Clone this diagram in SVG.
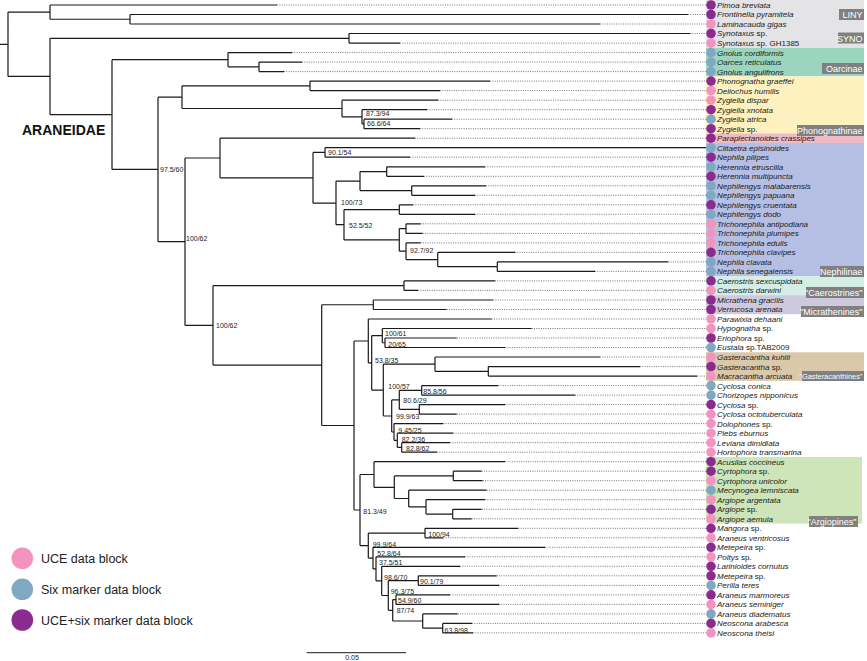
<svg xmlns="http://www.w3.org/2000/svg" width="867" height="661" viewBox="0 0 867 661">
<style>
.br{fill:none;stroke:#1a1a1a;stroke-width:1.2}
.dt{fill:none;stroke:#555;stroke-width:0.8;stroke-dasharray:1 1.3}
.u{fill:#f394c0}.m{fill:#7fa8c2}.b{fill:#8b2b8d}
.t{font-family:"Liberation Sans",Arial,sans-serif;font-size:8px;font-style:italic;fill:#1a1a1a}
.n{font-style:normal}
.s{font-family:"Liberation Sans",Arial,sans-serif;font-size:7px;fill:#222}
.lb{fill:#808080}
.lt{font-family:"Liberation Sans",Arial,sans-serif;font-size:9px;fill:#fff;text-anchor:end}
.lg{font-family:"Liberation Sans",Arial,sans-serif;font-size:12.5px;fill:#222}
</style>
<rect width="867" height="661" fill="#fff"/>
<g id="bands">
<rect x="706" y="0" width="158" height="47.85" fill="#e4e4e7"/>
<rect x="706" y="47.85" width="158" height="28.5" fill="#9bd5bf"/>
<rect x="706" y="76.35" width="158" height="57.1" fill="#fdf2bf"/>
<rect x="706" y="133.45" width="158" height="9.5" fill="#efbac4"/>
<rect x="706" y="142.95" width="158" height="133.2" fill="#b5bee3"/>
<rect x="706" y="276.15" width="158" height="19" fill="#d4ede5"/>
<rect x="706" y="295.15" width="158" height="19.1" fill="#cfc9de"/>
<rect x="706" y="352.25" width="158" height="28.6" fill="#d9c9aa"/>
<rect x="706" y="456.95" width="156" height="66.6" fill="#cde5b9"/>
</g>
<g id="connectors">
<path class="br" d="M0 44.3H8M8 12.1V76.4M8 12.1H50M8 76.4H50
M50 5V19.25M50 5H277M50 19.25H130
M130 14.5V24M130 14.5H688M130 24H600
M50 38.3V114.6M50 38.3H349M50 114.6H112
M349 33.5V43.1M349 33.5H690M349 43.1H400
M112 59.7V169.4M112 59.7H228M112 169.4H158
M228 52.6V66.85M228 52.6H292M228 66.85H259
M259 62.1V71.6M259 62.1H302M259 71.6H284
M158 97.2V241.7M158 97.2H182M158 241.7H185
M182 85.85V108.5M182 85.85H310M182 108.5H342
M310 81.1V90.6M310 81.1H490M310 90.6H440
M342 100.2V116.8M342 100.2H438M342 116.8H362
M362 109.7V123.95M362 109.7H427M362 123.95H364
M364 119.2V128.7M364 119.2H452M364 128.7H420
M185 158V325.4M185 158H220M185 325.4H213
M220 138.2V177.8M220 138.2H415M220 177.8H313
M313 152.45V203.2M313 152.45H325M313 203.2H336
M325 147.7V157.2M325 147.7H706M325 157.2H410
M336 181.05V224.7M336 181.05H360M336 224.7H344
M360 171.55V190.55M360 171.55H386.7M360 190.55H411.7
M386.7 166.8V176.3M386.7 166.8H485M386.7 176.3H424
M411.7 185.8V195.3M411.7 185.8H486M411.7 195.3H475
M344 209.55V239.9M344 209.55H399.3M344 239.9H399.3
M399.3 204.8V214.3M399.3 204.8H413M399.3 214.3H475
M399.3 228.6V251.2M399.3 228.6H406M399.3 251.2H406
M406 223.8V233.4M406 223.8H420.7M406 233.4H422.7
M406 242.9V259.55M406 242.9H420.7M406 259.55H437.7
M437.7 252.4V266.65M437.7 252.4H515M437.7 266.65H497.3
M497.3 261.9V271.4M497.3 261.9H668.3M497.3 271.4H595
M213 285.65V365.1M213 285.65H404M213 365.1H321.7
M404 280.9V290.4M404 280.9H495M404 290.4H418
M321.7 304.75V425.5M321.7 304.75H373.3M321.7 425.5H354
M373.3 300V309.5M373.3 300H493M373.3 309.5H446.7
M354 341V510M354 341H368.3M354 510H360
M368.3 319V362.9M368.3 319H491.7M368.3 362.9H371.7
M371.7 335.6V390.1M371.7 335.6H382.3M371.7 390.1H383.3
M382.3 328.5V342.75M382.3 328.5H531.7M382.3 342.75H385
M385 338V347.5M385 338H456.7M385 347.5H505
M383.3 364.2V416M383.3 364.2H435M383.3 416H391.7
M435 357V371.35M435 357H600M435 371.35H488.3
M488.3 366.6V376.1M488.3 366.6H640M488.3 376.1H697
M391.7 399.9V432M391.7 399.9H399.3M391.7 432H394
M399.3 390.35V409.35M399.3 390.35H421.7M399.3 409.35H419.3
M421.7 385.6V395.1M421.7 385.6H498.3M421.7 395.1H575
M419.3 404.6V414.1M419.3 404.6H505M419.3 414.1H456.7
M394 423.6V440.3M394 423.6H443.3M394 440.3H397.3
M397.3 433.2V447.45M397.3 433.2H453.3M397.3 447.45H401.7
M401.7 442.7V452.2M401.7 442.7H450M401.7 452.2H437
M360 474.5V545.6M360 474.5H374M360 545.6H368.3
M374 461.7V487.3M374 461.7H505M374 487.3H394.3
M394.3 475.95V498.5M394.3 475.95H453.3M394.3 498.5H408.7
M453.3 471.2V480.7M453.3 471.2H481.7M453.3 480.7H482.7
M408.7 490.2V506.9M408.7 490.2H486.7M408.7 506.9H426
M426 499.7V514.05M426 499.7H485M426 514.05H452.7
M452.7 509.3V518.8M452.7 509.3H481.7M452.7 518.8H471.7
M368.3 533.05V558.1M368.3 533.05H425M368.3 558.1H373
M425 528.3V537.8M425 528.3H518.3M425 537.8H443.3
M373 547.3V568.9M373 547.3H545M373 568.9H376
M376 556.8V580.9M376 556.8H465M376 580.9H381.7
M381.7 566.3V595.5M381.7 566.3H460M381.7 595.5H388.3
M388.3 580.6V610.3M388.3 580.6H418.3M388.3 610.3H392.7
M418.3 575.8V585.4M418.3 575.8H496.7M418.3 585.4H499
M392.7 599.65V621M392.7 599.65H396M392.7 621H422.7
M396 594.9V604.4M396 594.9H450M396 604.4H499
M422.7 613.9V628.15M422.7 613.9H457.7M422.7 628.15H442.7
M442.7 623.4V632.9M442.7 623.4H472M442.7 632.9H473"/>
<path class="dt" d="M277 5H706M688 14.5H706M600 24H706M690 33.5H706M400 43.1H706M292 52.6H706M302 62.1H706M284 71.6H706
M490 81.1H706M440 90.6H706M438 100.2H706M427 109.7H706M452 119.2H706M420 128.7H706M415 138.2H706
M410 157.2H706M485 166.8H706M424 176.3H706M486 185.8H706M475 195.3H706M413 204.8H706M475 214.3H706
M420.7 223.8H706M422.7 233.4H706M420.7 242.9H706M515 252.4H706M668.3 261.9H706M595 271.4H706
M495 280.9H706M418 290.4H706M493 300H706M446.7 309.5H706M491.7 319H706M531.7 328.5H706M456.7 338H706M505 347.5H706
M600 357H706M640 366.6H706M697 376.1H706M498.3 385.6H706M575 395.1H706M505 404.6H706M456.7 414.1H706
M443.3 423.6H706M453.3 433.2H706M450 442.7H706M437 452.2H706M505 461.7H706M481.7 471.2H706M482.7 480.7H706
M486.7 490.2H706M485 499.7H706M481.7 509.3H706M471.7 518.8H706M518.3 528.3H706M443.3 537.8H706M545 547.3H706
M465 556.8H706M460 566.3H706M496.7 575.8H706M499 585.4H706M450 594.9H706M499 604.4H706M457.7 613.9H706
M472 623.4H706M473 632.9H706"/>
</g>
<g id="support">
<text class="s" x="160" y="171.5">97.5/60</text>
<text class="s" x="186" y="240.5">100/62</text>
<text class="s" x="216" y="327.5">100/62</text>
<text class="s" x="328" y="155.2">90.1/54</text>
<text class="s" x="341" y="205.2">100/73</text>
<text class="s" x="349" y="227.5">52.5/52</text>
<text class="s" x="410" y="253.3">92.7/92</text>
<text class="s" x="366" y="115.5">87.3/94</text>
<text class="s" x="367" y="126">66.6/64</text>
<text class="s" x="385" y="335.8">100/61</text>
<text class="s" x="388.3" y="346.5">20/65</text>
<text class="s" x="375" y="362.5">53.8/35</text>
<text class="s" x="423.3" y="393.5">85.8/56</text>
<text class="s" x="388.3" y="388.5">100/57</text>
<text class="s" x="403.3" y="402.5">80.6/29</text>
<text class="s" x="396" y="418.5">99.9/63</text>
<text class="s" x="398.3" y="432.5">9.45/25</text>
<text class="s" x="401.7" y="441.8">82.2/36</text>
<text class="s" x="406" y="450.8">82.8/62</text>
<text class="s" x="363.3" y="514.2">81.3/49</text>
<text class="s" x="428.3" y="536.5">100/94</text>
<text class="s" x="372.7" y="546.8">99.9/64</text>
<text class="s" x="377.3" y="555.8">52.8/64</text>
<text class="s" x="379" y="565.2">37.5/51</text>
<text class="s" x="384" y="579.8">98.6/70</text>
<text class="s" x="420" y="584.2">90.1/79</text>
<text class="s" x="390.7" y="593.5">96.3/75</text>
<text class="s" x="398" y="603.2">54.9/60</text>
<text class="s" x="396.7" y="613.2">87/74</text>
<text class="s" x="444.5" y="632.5">63.8/98</text>
</g>
<g id="t1"><circle class="b" cx="711" cy="5" r="4.8"/><text class="t" x="717" y="7.9">Pimoa breviata</text></g>
<g id="t2"><circle class="b" cx="711" cy="14.5" r="4.8"/><text class="t" x="717" y="17.4">Frontinella pyramitela</text></g>
<g id="t3"><circle class="u" cx="711" cy="24" r="4.8"/><text class="t" x="717" y="26.9">Laminacauda gigas</text></g>
<g id="t4"><circle class="b" cx="711" cy="33.5" r="4.8"/><text class="t" x="717" y="36.4">Synotaxus<tspan class="n"> sp.</tspan></text></g>
<g id="t5"><circle class="u" cx="711" cy="43.1" r="4.8"/><text class="t" x="717" y="46">Synotaxus<tspan class="n"> sp. GH1385</tspan></text></g>
<g id="t6"><circle class="m" cx="711" cy="52.6" r="4.8"/><text class="t" x="717" y="55.5">Gnolus cordiformis</text></g>
<g id="t7"><circle class="m" cx="711" cy="62.1" r="4.8"/><text class="t" x="717" y="65">Oarces reticulatus</text></g>
<g id="t8"><circle class="m" cx="711" cy="71.6" r="4.8"/><text class="t" x="717" y="74.5">Gnolus angulifrons</text></g>
<g id="t9"><circle class="b" cx="711" cy="81.1" r="4.8"/><text class="t" x="717" y="84">Phonognatha graeffei</text></g>
<g id="t10"><circle class="u" cx="711" cy="90.6" r="4.8"/><text class="t" x="717" y="93.5">Deliochus humilis</text></g>
<g id="t11"><circle class="u" cx="711" cy="100.2" r="4.8"/><text class="t" x="717" y="103.1">Zygiella dispar</text></g>
<g id="t12"><circle class="b" cx="711" cy="109.7" r="4.8"/><text class="t" x="717" y="112.6">Zygiella xnotata</text></g>
<g id="t13"><circle class="m" cx="711" cy="119.2" r="4.8"/><text class="t" x="717" y="122.1">Zygiella atrica</text></g>
<g id="t14"><circle class="b" cx="711" cy="128.7" r="4.8"/><text class="t" x="717" y="131.6">Zygiella<tspan class="n"> sp.</tspan></text></g>
<g id="t15"><circle class="b" cx="711" cy="138.2" r="4.8"/><text class="t" x="717" y="141.1">Paraplectanoides crassipes</text></g>
<g id="t16"><circle class="m" cx="711" cy="147.7" r="4.8"/><text class="t" x="717" y="150.6">Clitaetra episinoides</text></g>
<g id="t17"><circle class="b" cx="711" cy="157.2" r="4.8"/><text class="t" x="717" y="160.1">Nephila pilipes</text></g>
<g id="t18"><circle class="m" cx="711" cy="166.8" r="4.8"/><text class="t" x="717" y="169.7">Herennia etruscilla</text></g>
<g id="t19"><circle class="b" cx="711" cy="176.3" r="4.8"/><text class="t" x="717" y="179.2">Herennia multipuncta</text></g>
<g id="t20"><circle class="m" cx="711" cy="185.8" r="4.8"/><text class="t" x="717" y="188.7">Nephilengys malabarensis</text></g>
<g id="t21"><circle class="m" cx="711" cy="195.3" r="4.8"/><text class="t" x="717" y="198.2">Nephilengys papuana</text></g>
<g id="t22"><circle class="b" cx="711" cy="204.8" r="4.8"/><text class="t" x="717" y="207.7">Nephilengys cruentata</text></g>
<g id="t23"><circle class="m" cx="711" cy="214.3" r="4.8"/><text class="t" x="717" y="217.2">Nephilengys dodo</text></g>
<g id="t24"><circle class="u" cx="711" cy="223.8" r="4.8"/><text class="t" x="717" y="226.7">Trichonephila antipodiana</text></g>
<g id="t25"><circle class="u" cx="711" cy="233.4" r="4.8"/><text class="t" x="717" y="236.3">Trichonephila plumipes</text></g>
<g id="t26"><circle class="u" cx="711" cy="242.9" r="4.8"/><text class="t" x="717" y="245.8">Trichonephila edulis</text></g>
<g id="t27"><circle class="b" cx="711" cy="252.4" r="4.8"/><text class="t" x="717" y="255.3">Trichonephila clavipes</text></g>
<g id="t28"><circle class="m" cx="711" cy="261.9" r="4.8"/><text class="t" x="717" y="264.8">Nephila clavata</text></g>
<g id="t29"><circle class="m" cx="711" cy="271.4" r="4.8"/><text class="t" x="717" y="274.3">Nephila senegalensis</text></g>
<g id="t30"><circle class="b" cx="711" cy="280.9" r="4.8"/><text class="t" x="717" y="283.8">Caerostris sexcuspidata</text></g>
<g id="t31"><circle class="u" cx="711" cy="290.4" r="4.8"/><text class="t" x="717" y="293.3">Caerostris darwini</text></g>
<g id="t32"><circle class="b" cx="711" cy="300" r="4.8"/><text class="t" x="717" y="302.9">Micrathena gracilis</text></g>
<g id="t33"><circle class="b" cx="711" cy="309.5" r="4.8"/><text class="t" x="717" y="312.4">Verrucosa arenata</text></g>
<g id="t34"><circle class="u" cx="711" cy="319" r="4.8"/><text class="t" x="717" y="321.9">Parawixia dehaani</text></g>
<g id="t35"><circle class="u" cx="711" cy="328.5" r="4.8"/><text class="t" x="717" y="331.4">Hypognatha<tspan class="n"> sp.</tspan></text></g>
<g id="t36"><circle class="b" cx="711" cy="338" r="4.8"/><text class="t" x="717" y="340.9">Eriophora<tspan class="n"> sp.</tspan></text></g>
<g id="t37"><circle class="m" cx="711" cy="347.5" r="4.8"/><text class="t" x="717" y="350.4">Eustala<tspan class="n"> sp.TAB2009</tspan></text></g>
<g id="t38"><circle class="u" cx="711" cy="357" r="4.8"/><text class="t" x="717" y="359.9">Gasteracantha kuhlii</text></g>
<g id="t39"><circle class="b" cx="711" cy="366.6" r="4.8"/><text class="t" x="717" y="369.5">Gasteracantha<tspan class="n"> sp.</tspan></text></g>
<g id="t40"><circle class="u" cx="711" cy="376.1" r="4.8"/><text class="t" x="717" y="379">Macracantha arcuata</text></g>
<g id="t41"><circle class="m" cx="711" cy="385.6" r="4.8"/><text class="t" x="717" y="388.5">Cyclosa conica</text></g>
<g id="t42"><circle class="m" cx="711" cy="395.1" r="4.8"/><text class="t" x="717" y="398">Chorizopes nipponicus</text></g>
<g id="t43"><circle class="b" cx="711" cy="404.6" r="4.8"/><text class="t" x="717" y="407.5">Cyclosa<tspan class="n"> sp.</tspan></text></g>
<g id="t44"><circle class="u" cx="711" cy="414.1" r="4.8"/><text class="t" x="717" y="417">Cyclosa octotuberculata</text></g>
<g id="t45"><circle class="u" cx="711" cy="423.6" r="4.8"/><text class="t" x="717" y="426.5">Dolophones<tspan class="n"> sp.</tspan></text></g>
<g id="t46"><circle class="u" cx="711" cy="433.2" r="4.8"/><text class="t" x="717" y="436.1">Plebs eburnus</text></g>
<g id="t47"><circle class="u" cx="711" cy="442.7" r="4.8"/><text class="t" x="717" y="445.6">Leviana dimidiata</text></g>
<g id="t48"><circle class="u" cx="711" cy="452.2" r="4.8"/><text class="t" x="717" y="455.1">Hortophora transmarina</text></g>
<g id="t49"><circle class="b" cx="711" cy="461.7" r="4.8"/><text class="t" x="717" y="464.6">Acusilas coccineus</text></g>
<g id="t50"><circle class="b" cx="711" cy="471.2" r="4.8"/><text class="t" x="717" y="474.1">Cyrtophora<tspan class="n"> sp.</tspan></text></g>
<g id="t51"><circle class="u" cx="711" cy="480.7" r="4.8"/><text class="t" x="717" y="483.6">Cyrtophora unicolor</text></g>
<g id="t52"><circle class="m" cx="711" cy="490.2" r="4.8"/><text class="t" x="717" y="493.1">Mecynogea lemniscata</text></g>
<g id="t53"><circle class="u" cx="711" cy="499.7" r="4.8"/><text class="t" x="717" y="502.6">Argiope argentata</text></g>
<g id="t54"><circle class="b" cx="711" cy="509.3" r="4.8"/><text class="t" x="717" y="512.2">Argiope<tspan class="n"> sp.</tspan></text></g>
<g id="t55"><circle class="u" cx="711" cy="518.8" r="4.8"/><text class="t" x="717" y="521.7">Argiope aemula</text></g>
<g id="t56"><circle class="b" cx="711" cy="528.3" r="4.8"/><text class="t" x="717" y="531.2">Mangora<tspan class="n"> sp.</tspan></text></g>
<g id="t57"><circle class="u" cx="711" cy="537.8" r="4.8"/><text class="t" x="717" y="540.7">Araneus ventricosus</text></g>
<g id="t58"><circle class="b" cx="711" cy="547.3" r="4.8"/><text class="t" x="717" y="550.2">Metepeira<tspan class="n"> sp.</tspan></text></g>
<g id="t59"><circle class="u" cx="711" cy="556.8" r="4.8"/><text class="t" x="717" y="559.7">Poltys<tspan class="n"> sp.</tspan></text></g>
<g id="t60"><circle class="b" cx="711" cy="566.3" r="4.8"/><text class="t" x="717" y="569.2">Larinioides cornutus</text></g>
<g id="t61"><circle class="b" cx="711" cy="575.8" r="4.8"/><text class="t" x="717" y="578.7">Metepeira<tspan class="n"> sp.</tspan></text></g>
<g id="t62"><circle class="m" cx="711" cy="585.4" r="4.8"/><text class="t" x="717" y="588.3">Perilla teres</text></g>
<g id="t63"><circle class="b" cx="711" cy="594.9" r="4.8"/><text class="t" x="717" y="597.8">Araneus marmoreus</text></g>
<g id="t64"><circle class="u" cx="711" cy="604.4" r="4.8"/><text class="t" x="717" y="607.3">Araneus seminiger</text></g>
<g id="t65"><circle class="m" cx="711" cy="613.9" r="4.8"/><text class="t" x="717" y="616.8">Araneus diadematus</text></g>
<g id="t66"><circle class="b" cx="711" cy="623.4" r="4.8"/><text class="t" x="717" y="626.3">Neoscona arabesca</text></g>
<g id="t67"><circle class="u" cx="711" cy="632.9" r="4.8"/><text class="t" x="717" y="635.8">Neoscona theisi</text></g>
<g id="clade-labels">
<rect class="lb" x="839" y="9" width="25" height="11"/><text class="lt" x="862.5" y="18">LINY</text>
<rect class="lb" x="838" y="32.5" width="26" height="11"/><text class="lt" x="862.5" y="41.5">SYNO</text>
<rect class="lb" x="822" y="63" width="42" height="11"/><text class="lt" x="862.5" y="72">Oarcinae</text>
<rect class="lb" x="797" y="125" width="67" height="11"/><text class="lt" x="862.5" y="134">Phonognathinae</text>
<rect class="lb" x="820" y="266" width="44" height="11"/><text class="lt" x="862.5" y="275">Nephilinae</text>
<rect class="lb" x="806" y="287" width="58" height="11"/><text class="lt" x="862.5" y="296">"Caerostrines"</text>
<rect class="lb" x="801" y="306" width="63" height="11"/><text class="lt" x="862.5" y="315">"Micrathenines"</text>
<rect class="lb" x="802" y="371" width="62" height="10"/><text class="lt" x="862.5" y="379.3" style="font-size:7.4px">"Gasteracanthines"</text>
<rect class="lb" x="809" y="516" width="49" height="11"/><text class="lt" x="856.5" y="525">"Argiopines"</text>
</g>
<text x="22" y="135" style="font-family:'Liberation Sans',Arial,sans-serif;font-size:14px;font-weight:bold;fill:#111">ARANEIDAE</text>
<g id="legend">
<circle class="u" cx="22.3" cy="558.3" r="10.8"/><text class="lg" x="41" y="562.8">UCE data block</text>
<circle class="m" cx="22.3" cy="589.3" r="10.8"/><text class="lg" x="41" y="593.8">Six marker data block</text>
<circle class="b" cx="22.3" cy="620" r="10.8"/><text class="lg" x="41" y="624.5">UCE+six marker data block</text>
</g>
<g id="scale">
<path class="br" d="M306.7 652.7H406" style="stroke-width:1"/>
<text class="s" x="352" y="659.8" text-anchor="middle">0.05</text>
</g>
</svg>
